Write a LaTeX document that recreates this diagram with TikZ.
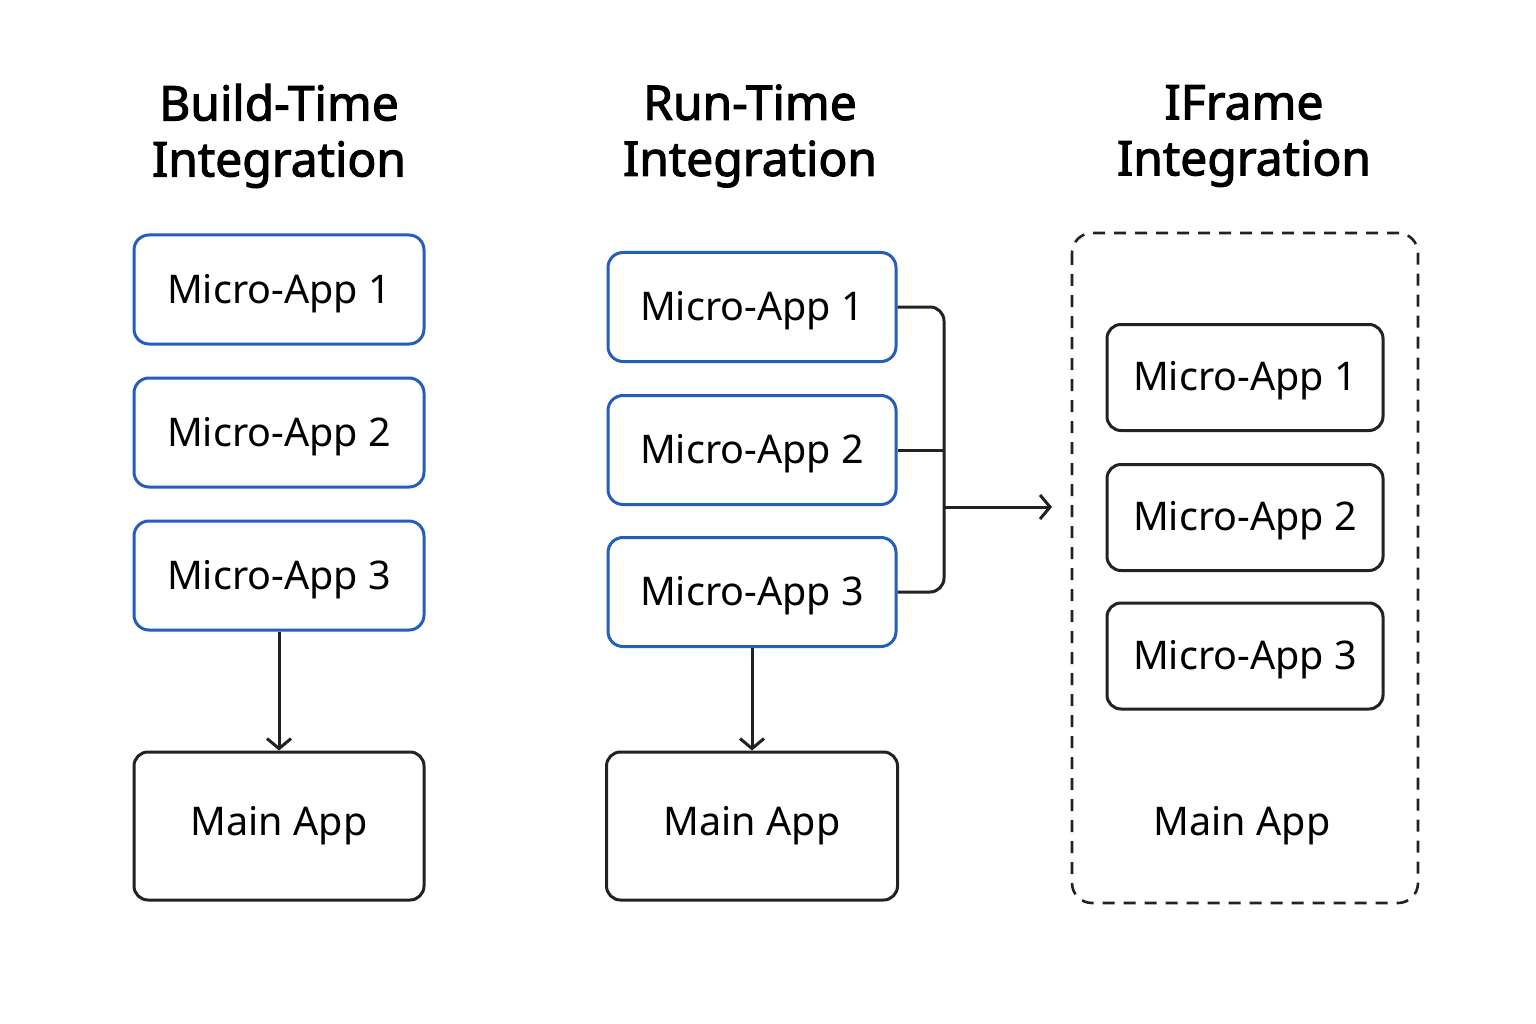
\documentclass[tikz,border=0pt]{standalone}
\usepackage{fontspec}
\setmainfont{Noto Sans}
\newfontfamily\titlefont{Noto Sans}[FakeBold=2.2]
\usetikzlibrary{arrows.meta}
\definecolor{appblue}{RGB}{38,92,190}
\definecolor{ink}{RGB}{34,34,34}
\tikzset{
  boxfont/.style={font=\fontsize{39.5}{46}\selectfont},
  microbox/.style={draw=appblue, line width=3pt, rounded corners=15pt, fill=white, boxfont, inner sep=0pt, text height=30pt, text depth=3pt, minimum width=290pt, minimum height=109pt},
  microboxk/.style={draw=ink, line width=3pt, rounded corners=14pt, fill=white, boxfont, inner sep=0pt, text height=30pt, text depth=4pt, minimum width=276pt, minimum height=106pt},
  mainbox/.style={draw=ink, line width=3pt, rounded corners=14pt, fill=white, boxfont, inner sep=0pt, minimum width=290pt, minimum height=148pt},
  titletext/.style={font=\titlefont\fontsize{48}{56}\selectfont, align=center, text=black},
  conn/.style={draw=ink, line width=3pt},
  arr/.style={conn, -{Straight Barb[length=10pt,width=24pt,line width=3pt]}},
  frame/.style={draw=ink, line width=2.6pt, dash pattern=on 12pt off 9pt, rounded corners=20pt}
}
\begin{document}
\begin{tikzpicture}[x=1pt,y=-1pt]
\useasboundingbox (0,0) rectangle (1536,1024);
\fill[white] (0,0) rectangle (1536,1024);
% titles
\node[titletext] (t1) at (279,136) {Build-Time\\Integration};
\node[titletext] (t2) at (750,136) {Run-Time\\Integration};
\node[titletext] (t3) at (1244,136) {IFrame\\Integration};
% column 1
\node[microbox] (a1) at (279,289.5) {Micro-App 1};
\node[microbox] (a2) at (279,432.5) {Micro-App 2};
\node[microbox] (a3) at (279,575.5) {Micro-App 3};
\node[mainbox] (am) at (279,826) {Main App};
\draw[arr] (a3.south) -- (am.north);
% column 2
\node[microbox, minimum width=288pt] (b1) at (752,307) {Micro-App 1};
\node[microbox, minimum width=288pt] (b2) at (752,450) {Micro-App 2};
\node[microbox, minimum width=288pt] (b3) at (752,592) {Micro-App 3};
\node[mainbox, minimum width=291pt] (bm) at (752,826) {Main App};
\draw[arr] (b3.south) -- (bm.north);
\coordinate (bus) at (944,507);
\coordinate (busend) at (1052,507);
\draw[conn, rounded corners=14pt] (b1.east) -- (944,307) -- (944,592) -- (b3.east);
\draw[conn] (b2.east) -- (944,450);
\draw[arr] (bus) -- (busend);
% column 3
\draw[frame] (1072,233) rectangle (1418,903);
\node[microboxk] (c1) at (1245,377.5) {Micro-App 1};
\node[microboxk] (c2) at (1245,517.5) {Micro-App 2};
\node[microboxk] (c3) at (1245,656) {Micro-App 3};
\node[boxfont] (cm) at (1242,826) {Main App};
\end{tikzpicture}
\end{document}
